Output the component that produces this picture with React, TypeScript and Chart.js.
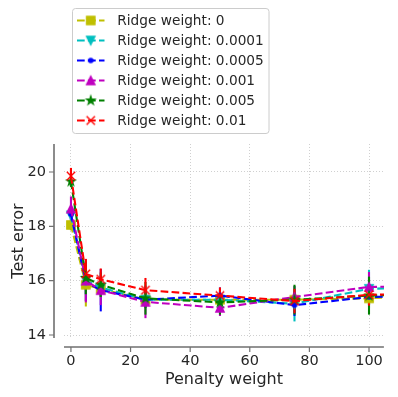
import React, { useEffect, useRef } from "react";
import { Chart, registerables } from "chart.js";

Chart.register(...registerables);

// ---- data ----
const penaltyWeights = [0, 5, 10, 25, 50, 75, 100, 110];
const xTicks = [0, 20, 40, 60, 80, 100];
const yTicks = [14, 16, 18, 20];

const seriesLabels = [
  "Ridge weight: 0",
  "Ridge weight: 0.0001",
  "Ridge weight: 0.0005",
  "Ridge weight: 0.001",
  "Ridge weight: 0.005",
  "Ridge weight: 0.01",
];
const seriesColors = ["#bfbf00", "#00bfbf", "#0000ff", "#bf00bf", "#008000", "#ff0000"];
const seriesMarkers = ["square", "triangleDown", "point", "triangleUp", "star", "cross"];

const ridge0 = [18.05, 15.85, 15.7, 15.3, 15.3, 15.3, 15.35, 15.4];
const ridge00001 = [18.4, 16.0, 15.75, 15.3, 15.3, 15.15, 15.7, 15.73];
const ridge00005 = [18.45, 15.95, 15.65, 15.3, 15.45, 15.1, 15.4, 15.42];
const ridge0001 = [18.65, 16.0, 15.65, 15.22, 15.0, 15.4, 15.77, 15.78];
const ridge0005 = [19.65, 16.1, 15.85, 15.35, 15.2, 15.3, 15.45, 15.48];
const ridge001 = [19.85, 16.25, 16.05, 15.65, 15.45, 15.25, 15.48, 15.5];

const ridge0Err = [0.2, 0.8, 0.3, 0.3, 0.25, 0.3, 0.25];
const ridge00001Err = [0.2, 0.5, 0.3, 0.3, 0.25, 0.65, 0.7];
const ridge00005Err = [0.2, 0.7, 0.78, 0.3, 0.3, 0.4, 0.3];
const ridge0001Err = [0.45, 0.8, 0.55, 0.6, 0.3, 0.4, 0.55];
const ridge0005Err = [0.2, 0.6, 0.45, 0.6, 0.45, 0.55, 0.7];
const ridge001Err = [0.3, 0.55, 0.4, 0.45, 0.3, 0.45, 0.4];

const seriesValues = [ridge0, ridge00001, ridge00005, ridge0001, ridge0005, ridge001];
const seriesErrors = [ridge0Err, ridge00001Err, ridge00005Err, ridge0001Err, ridge0005Err, ridge001Err];

const FONT = "'DejaVu Sans', sans-serif";
const MS = 8.33;
const LW = 2.08;
const DASH = [7.7, 3.3];

function makeMarker(kind: string, color: string): HTMLCanvasElement {
  const c = document.createElement("canvas");
  c.width = 16;
  c.height = 16;
  const g = c.getContext("2d")!;
  const cx = 8, cy = 8, h = MS / 2;
  g.fillStyle = color;
  g.strokeStyle = color;
  g.lineWidth = 1.39;
  g.lineJoin = "miter";
  g.beginPath();
  if (kind === "square") {
    g.rect(cx - h, cy - h, MS, MS);
  } else if (kind === "triangleUp") {
    g.moveTo(cx, cy - h);
    g.lineTo(cx + h, cy + h);
    g.lineTo(cx - h, cy + h);
    g.closePath();
  } else if (kind === "triangleDown") {
    g.moveTo(cx, cy + h);
    g.lineTo(cx + h, cy - h);
    g.lineTo(cx - h, cy - h);
    g.closePath();
  } else if (kind === "point") {
    g.arc(cx, cy, MS * 0.25, 0, Math.PI * 2);
  } else if (kind === "star") {
    const inner = h * 0.381966;
    for (let k = 0; k < 10; k++) {
      const r = k % 2 === 0 ? h : inner;
      const a = -Math.PI / 2 + (k * Math.PI) / 5;
      const px = cx + r * Math.cos(a);
      const py = cy + r * Math.sin(a);
      if (k === 0) g.moveTo(px, py);
      else g.lineTo(px, py);
    }
    g.closePath();
  } else if (kind === "cross") {
    g.moveTo(cx - h, cy - h);
    g.lineTo(cx + h, cy + h);
    g.moveTo(cx + h, cy - h);
    g.lineTo(cx - h, cy + h);
  }
  if (kind !== "cross") g.fill();
  g.stroke();
  return c;
}

export default function App() {
  const ref = useRef<HTMLCanvasElement | null>(null);

  useEffect(() => {
    const canvas = ref.current;
    if (!canvas) return;
    const markers = seriesMarkers.map((m, i) => makeMarker(m, seriesColors[i]));

    const errorBars = {
      id: "errorBars",
      beforeDatasetsDraw(chart: any) {
        const ctx = chart.ctx;
        const ys = chart.scales.y;
        const area = chart.chartArea;
        ctx.save();
        ctx.beginPath();
        ctx.rect(area.left, area.top, area.right - area.left, area.bottom - area.top);
        ctx.clip();
        seriesErrors.forEach((errs, i) => {
          const meta = chart.getDatasetMeta(i);
          ctx.strokeStyle = seriesColors[i];
          ctx.lineWidth = LW;
          ctx.setLineDash([]);
          errs.forEach((e, j) => {
            const pt = meta.data[j];
            if (!pt) return;
            const v = seriesValues[i][j];
            ctx.beginPath();
            ctx.moveTo(pt.x, ys.getPixelForValue(v + e));
            ctx.lineTo(pt.x, ys.getPixelForValue(v - e));
            ctx.stroke();
          });
        });
        ctx.restore();
      },
    };

    const spinesAndLegend = {
      id: "spinesAndLegend",
      afterDraw(chart: any) {
        const ctx = chart.ctx;
        const area = chart.chartArea;
        const xs = chart.scales.x;
        const ys = chart.scales.y;
        ctx.save();
        // spines
        ctx.strokeStyle = "#707070";
        ctx.lineWidth = 1.6;
        ctx.setLineDash([]);
        const sx = area.left - 10;
        const sy = area.bottom + 9;
        ctx.beginPath();
        ctx.moveTo(sx, area.top);
        ctx.lineTo(sx, area.bottom);
        ctx.moveTo(area.left, sy);
        ctx.lineTo(area.right, sy);
        ctx.stroke();
        ctx.lineWidth = 1.2;
        ctx.beginPath();
        yTicks.forEach((v) => {
          const p = ys.getPixelForValue(v);
          ctx.moveTo(sx, p);
          ctx.lineTo(sx - 5, p);
        });
        xTicks.forEach((v) => {
          const p = xs.getPixelForValue(v);
          ctx.moveTo(p, sy);
          ctx.lineTo(p, sy + 5);
        });
        ctx.stroke();

        // legend
        const bx = 72.5, by = 8.5, bw = 196.5, bh = 125;
        ctx.fillStyle = "rgba(255,255,255,0.8)";
        ctx.strokeStyle = "#cccccc";
        ctx.lineWidth = 1;
        ctx.beginPath();
        ctx.roundRect(bx, by, bw, bh, 3);
        ctx.fill();
        ctx.stroke();
        ctx.font = `13.7px ${FONT}`;
        ctx.textBaseline = "middle";
        ctx.textAlign = "left";
        seriesLabels.forEach((label, i) => {
          const ry = 20.5 + i * 20;
          ctx.strokeStyle = seriesColors[i];
          ctx.lineWidth = LW;
          ctx.setLineDash(DASH);
          ctx.beginPath();
          ctx.moveTo(77, ry);
          ctx.lineTo(104.5, ry);
          ctx.stroke();
          ctx.setLineDash([]);
          const m = markers[i];
          ctx.drawImage(m, 90.7 - m.width / 2, ry - m.height / 2);
          ctx.fillStyle = "#262626";
          ctx.fillText(label, 117.3, ry + 0.5);
        });
        ctx.restore();
      },
    };

    const datasets = seriesLabels.map((label, i) => ({
      label,
      data: penaltyWeights.map((x, j) => ({ x, y: seriesValues[i][j] })),
      borderColor: seriesColors[i],
      backgroundColor: seriesColors[i],
      borderWidth: LW,
      borderDash: DASH,
      pointStyle: markers[i],
      pointRadius: 5,
      pointHoverRadius: 5,
      tension: 0,
      fill: false,
      clip: 0,
      order: seriesLabels.length - i,
    }));

    const chart = new Chart(canvas, {
      type: "line",
      data: { datasets },
      plugins: [errorBars, spinesAndLegend],
      options: {
        animation: false,
        responsive: false,
        maintainAspectRatio: false,
        events: [],
        layout: { padding: { top: 144, right: 12, left: 0, bottom: 0 } },
        plugins: { legend: { display: false }, tooltip: { enabled: false } },
        scales: {
          x: {
            type: "linear",
            min: -2.33,
            max: 105,
            afterBuildTicks: (s: any) => {
              s.ticks = xTicks.map((v) => ({ value: v }));
            },
            afterFit: (s: any) => {
              s.height = 59;
            },
            grid: { color: "#c4c4c4", lineWidth: 0.8, drawTicks: false },
            border: { display: false, dash: [1, 2] },
            ticks: { padding: 14.6, color: "#262626", font: { family: FONT, size: 14.5 } },
            title: {
              display: true,
              text: "Penalty weight",
              color: "#262626",
              font: { family: FONT, size: 16 },
              padding: { top: 0, bottom: 8 },
            },
          },
          y: {
            type: "linear",
            min: 13.89,
            max: 21.03,
            afterBuildTicks: (s: any) => {
              s.ticks = yTicks.map((v) => ({ value: v }));
            },
            afterFit: (s: any) => {
              s.width = 64;
            },
            grid: { color: "#c4c4c4", lineWidth: 0.8, drawTicks: false },
            border: { display: false, dash: [1, 2] },
            ticks: { padding: 18, color: "#262626", font: { family: FONT, size: 14.5 } },
            title: {
              display: true,
              text: "Test error",
              color: "#262626",
              font: { family: FONT, size: 16 },
              padding: { top: 9, bottom: 0 },
            },
          },
        },
      } as any,
    });
    return () => chart.destroy();
  }, []);

  return (
    <div style={{ position: "fixed", left: 0, top: 0, width: 398, height: 397, background: "#fff" }}>
      <canvas ref={ref} width={398} height={397} style={{ display: "block" }} />
    </div>
  );
}
